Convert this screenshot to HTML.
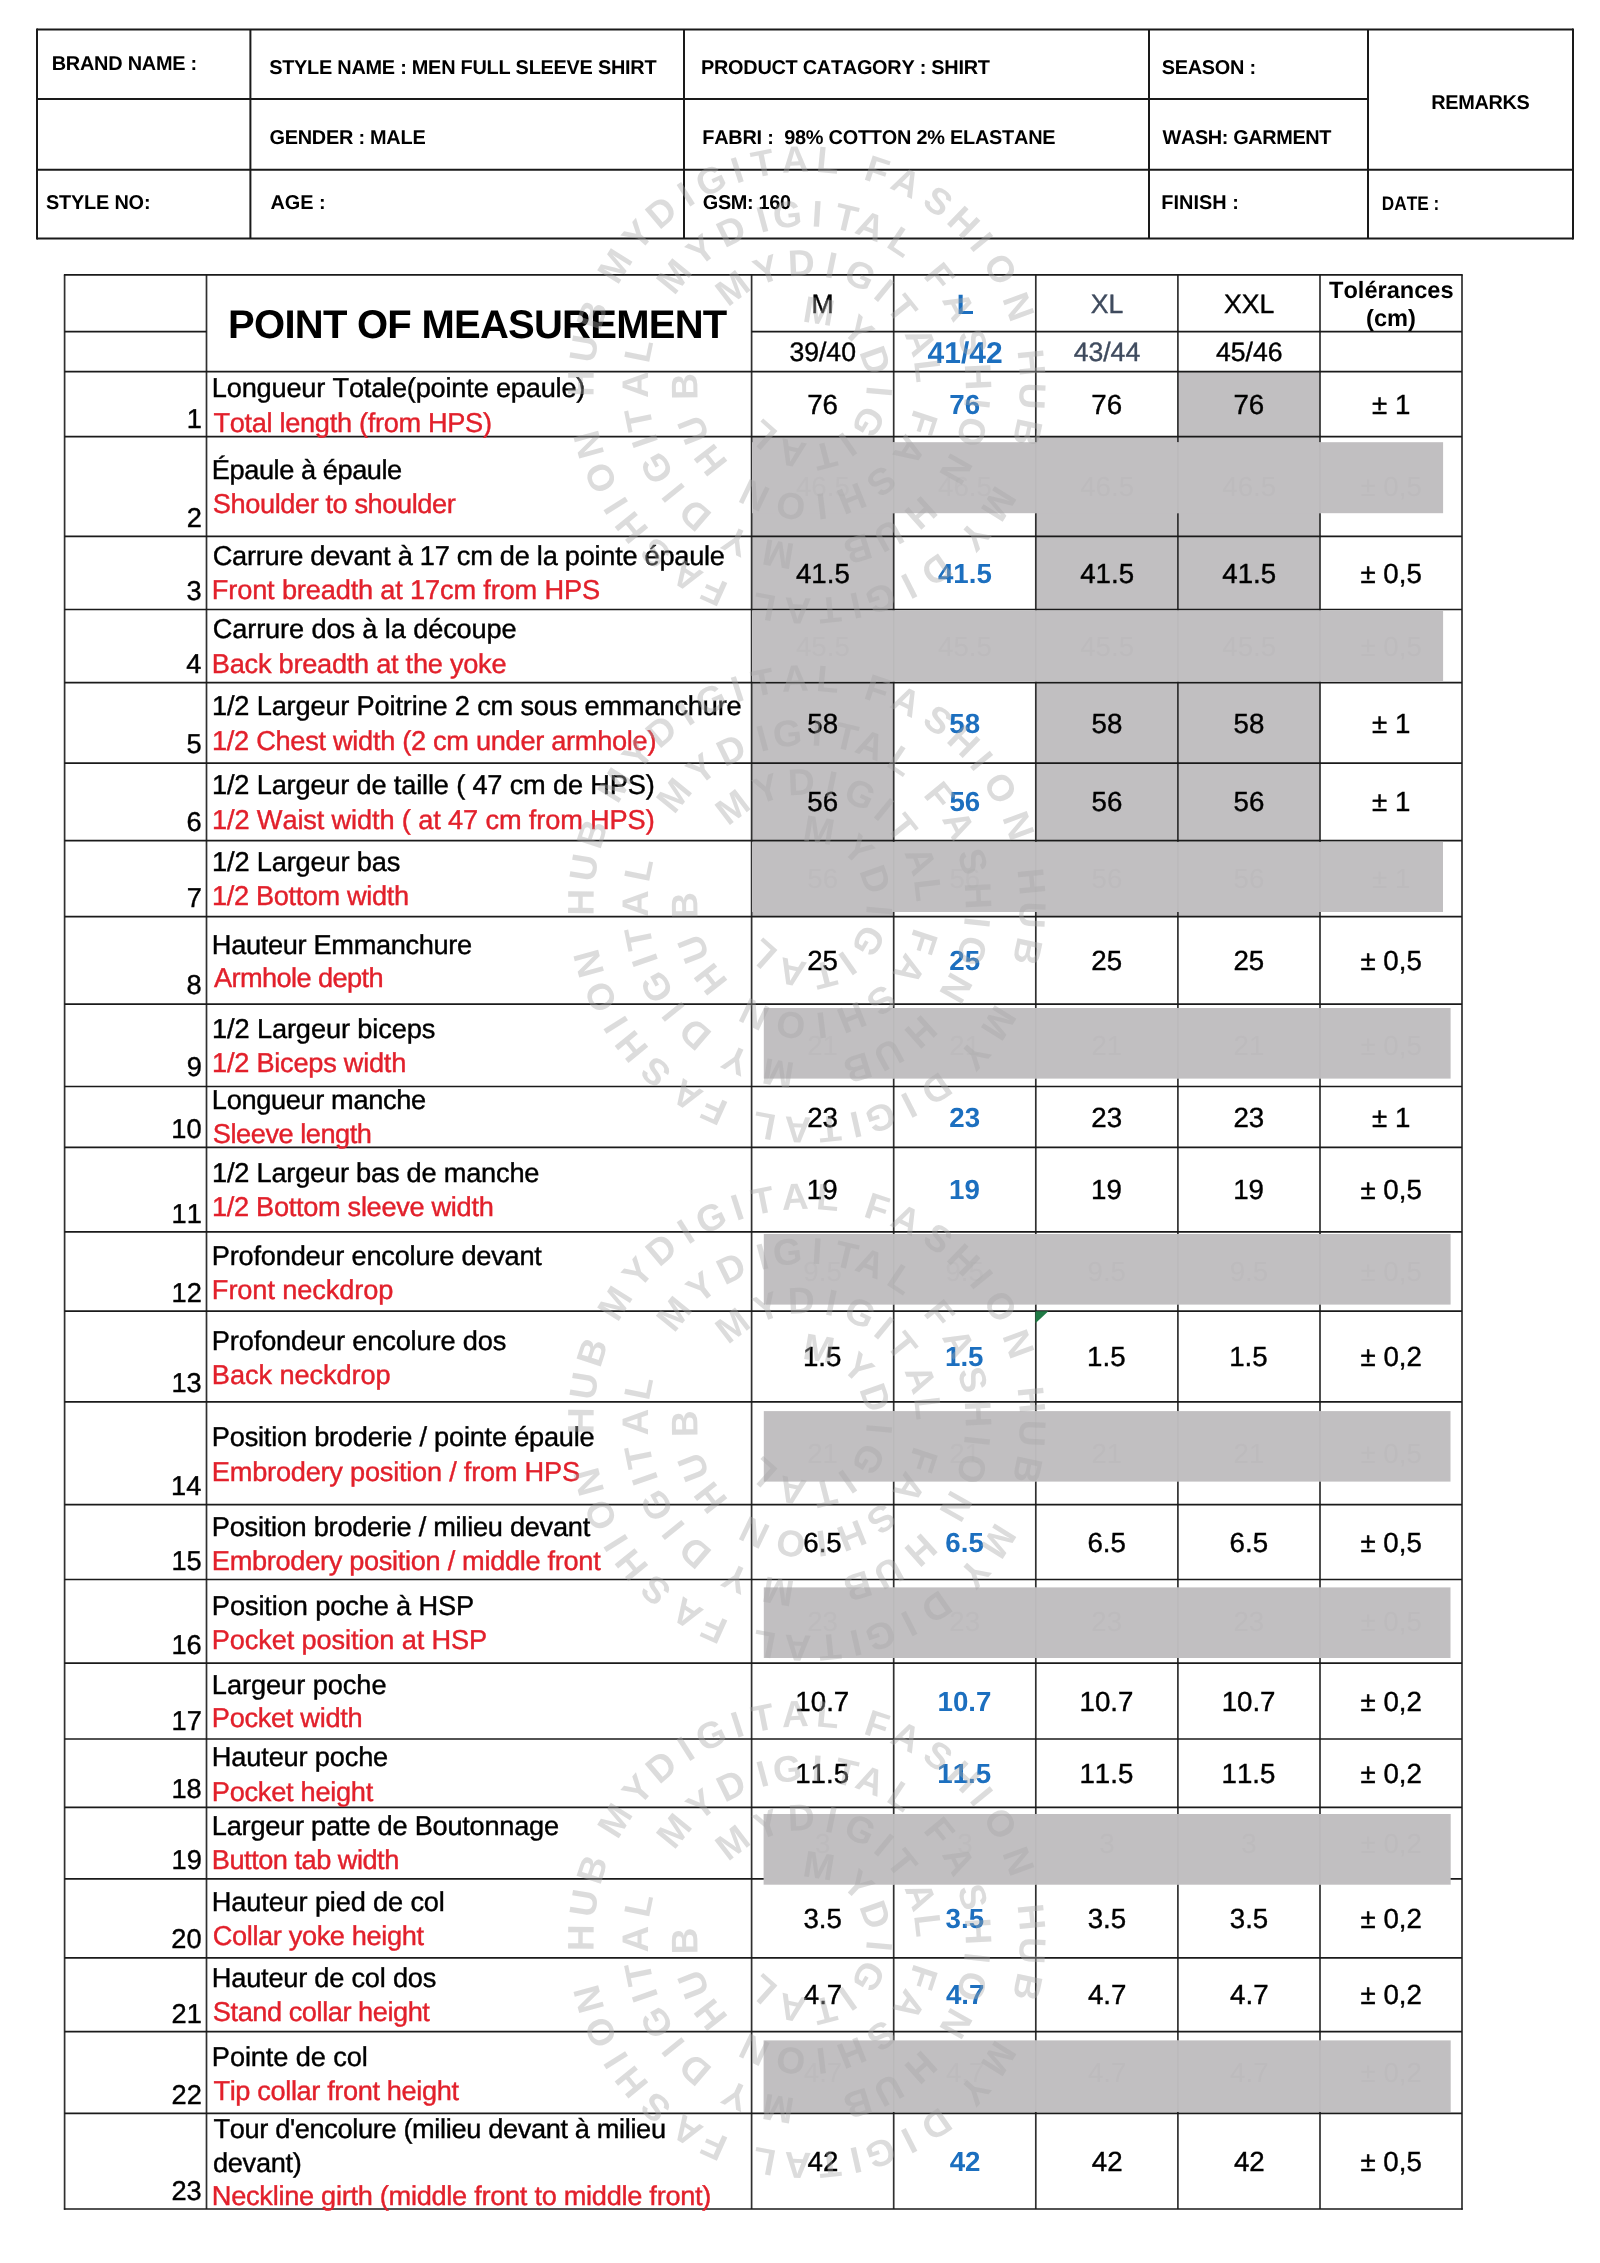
<!DOCTYPE html>
<html><head><meta charset="utf-8"><title>Measurement chart</title>
<style>html,body{margin:0;padding:0;background:#fff;}svg{display:block;font-kerning:none;text-rendering:geometricPrecision;will-change:transform;}</style>
</head><body>
<svg xmlns="http://www.w3.org/2000/svg" width="1600" height="2263" viewBox="0 0 1600 2263" font-family="'Liberation Sans', sans-serif">
<defs><g id="stamp" font-size="37" font-weight="bold"><text x="0" y="-213.2" text-anchor="middle" transform="rotate(301.8)">M</text><text x="0" y="-213.2" text-anchor="middle" transform="rotate(311.6)">Y</text><text x="0" y="-213.2" text-anchor="middle" transform="rotate(319.9)">D</text><text x="0" y="-213.2" text-anchor="middle" transform="rotate(327.6)">I</text><text x="0" y="-213.2" text-anchor="middle" transform="rotate(334.9)">G</text><text x="0" y="-213.2" text-anchor="middle" transform="rotate(342.1)">I</text><text x="0" y="-213.2" text-anchor="middle" transform="rotate(348.8)">T</text><text x="0" y="-213.2" text-anchor="middle" transform="rotate(357.0)">A</text><text x="0" y="-213.2" text-anchor="middle" transform="rotate(5.4)">L</text><text x="0" y="-213.2" text-anchor="middle" transform="rotate(18.2)">F</text><text x="0" y="-213.2" text-anchor="middle" transform="rotate(26.2)">A</text><text x="0" y="-213.2" text-anchor="middle" transform="rotate(35.6)">S</text><text x="0" y="-213.2" text-anchor="middle" transform="rotate(44.0)">H</text><text x="0" y="-213.2" text-anchor="middle" transform="rotate(50.7)">I</text><text x="0" y="-213.2" text-anchor="middle" transform="rotate(59.1)">O</text><text x="0" y="-213.2" text-anchor="middle" transform="rotate(69.7)">N</text><text x="0" y="-213.2" text-anchor="middle" transform="rotate(84.3)">H</text><text x="0" y="-213.2" text-anchor="middle" transform="rotate(92.8)">U</text><text x="0" y="-213.2" text-anchor="middle" transform="rotate(102.1)">B</text><text x="0" y="-213.2" text-anchor="middle" transform="rotate(121.8)">M</text><text x="0" y="-213.2" text-anchor="middle" transform="rotate(131.9)">Y</text><text x="0" y="-213.2" text-anchor="middle" transform="rotate(145.0)">D</text><text x="0" y="-213.2" text-anchor="middle" transform="rotate(153.0)">I</text><text x="0" y="-213.2" text-anchor="middle" transform="rotate(160.9)">G</text><text x="0" y="-213.2" text-anchor="middle" transform="rotate(167.4)">I</text><text x="0" y="-213.2" text-anchor="middle" transform="rotate(174.1)">T</text><text x="0" y="-213.2" text-anchor="middle" transform="rotate(182.3)">A</text><text x="0" y="-213.2" text-anchor="middle" transform="rotate(190.9)">L</text><text x="0" y="-213.2" text-anchor="middle" transform="rotate(204.2)">F</text><text x="0" y="-213.2" text-anchor="middle" transform="rotate(212.1)">A</text><text x="0" y="-213.2" text-anchor="middle" transform="rotate(222.0)">S</text><text x="0" y="-213.2" text-anchor="middle" transform="rotate(230.9)">H</text><text x="0" y="-213.2" text-anchor="middle" transform="rotate(237.7)">I</text><text x="0" y="-213.2" text-anchor="middle" transform="rotate(245.8)">O</text><text x="0" y="-213.2" text-anchor="middle" transform="rotate(254.7)">N</text><text x="0" y="-213.2" text-anchor="middle" transform="rotate(270.4)">H</text><text x="0" y="-213.2" text-anchor="middle" transform="rotate(279.3)">U</text><text x="0" y="-213.2" text-anchor="middle" transform="rotate(288.1)">B</text><text x="0" y="-158.8" text-anchor="middle" transform="rotate(309.3)">M</text><text x="0" y="-158.8" text-anchor="middle" transform="rotate(322.0)">Y</text><text x="0" y="-158.8" text-anchor="middle" transform="rotate(333.9)">D</text><text x="0" y="-158.8" text-anchor="middle" transform="rotate(345.0)">I</text><text x="0" y="-158.8" text-anchor="middle" transform="rotate(353.5)">G</text><text x="0" y="-158.8" text-anchor="middle" transform="rotate(3.5)">I</text><text x="0" y="-158.8" text-anchor="middle" transform="rotate(13.3)">T</text><text x="0" y="-158.8" text-anchor="middle" transform="rotate(21.9)">A</text><text x="0" y="-158.8" text-anchor="middle" transform="rotate(33.5)">L</text><text x="0" y="-158.8" text-anchor="middle" transform="rotate(50.8)">F</text><text x="0" y="-158.8" text-anchor="middle" transform="rotate(62.6)">A</text><text x="0" y="-158.8" text-anchor="middle" transform="rotate(75.6)">S</text><text x="0" y="-158.8" text-anchor="middle" transform="rotate(87.2)">H</text><text x="0" y="-158.8" text-anchor="middle" transform="rotate(96.2)">I</text><text x="0" y="-158.8" text-anchor="middle" transform="rotate(105.8)">O</text><text x="0" y="-158.8" text-anchor="middle" transform="rotate(119.4)">N</text><text x="0" y="-158.8" text-anchor="middle" transform="rotate(138.2)">H</text><text x="0" y="-158.8" text-anchor="middle" transform="rotate(151.5)">U</text><text x="0" y="-158.8" text-anchor="middle" transform="rotate(162.7)">B</text><text x="0" y="-158.8" text-anchor="middle" transform="rotate(189.6)">M</text><text x="0" y="-158.8" text-anchor="middle" transform="rotate(204.4)">Y</text><text x="0" y="-158.8" text-anchor="middle" transform="rotate(220.7)">D</text><text x="0" y="-158.8" text-anchor="middle" transform="rotate(231.1)">I</text><text x="0" y="-158.8" text-anchor="middle" transform="rotate(241.0)">G</text><text x="0" y="-158.8" text-anchor="middle" transform="rotate(250.8)">I</text><text x="0" y="-158.8" text-anchor="middle" transform="rotate(258.4)">T</text><text x="0" y="-158.8" text-anchor="middle" transform="rotate(270.1)">A</text><text x="0" y="-158.8" text-anchor="middle" transform="rotate(281.6)">L</text><text x="0" y="-109.4" text-anchor="middle" transform="rotate(322.5)">M</text><text x="0" y="-109.4" text-anchor="middle" transform="rotate(340.8)">Y</text><text x="0" y="-109.4" text-anchor="middle" transform="rotate(357.4)">D</text><text x="0" y="-109.4" text-anchor="middle" transform="rotate(11.7)">I</text><text x="0" y="-109.4" text-anchor="middle" transform="rotate(26.0)">G</text><text x="0" y="-109.4" text-anchor="middle" transform="rotate(39.3)">I</text><text x="0" y="-109.4" text-anchor="middle" transform="rotate(51.3)">T</text><text x="0" y="-109.4" text-anchor="middle" transform="rotate(69.2)">A</text><text x="0" y="-109.4" text-anchor="middle" transform="rotate(83.3)">L</text><text x="0" y="-109.4" text-anchor="middle" transform="rotate(108.1)">F</text><text x="0" y="-109.4" text-anchor="middle" transform="rotate(122.6)">A</text><text x="0" y="-109.4" text-anchor="middle" transform="rotate(142.2)">S</text><text x="0" y="-109.4" text-anchor="middle" transform="rotate(158.3)">H</text><text x="0" y="-109.4" text-anchor="middle" transform="rotate(173.0)">I</text><text x="0" y="-109.4" text-anchor="middle" transform="rotate(187.5)">O</text><text x="0" y="-109.4" text-anchor="middle" transform="rotate(205.5)">N</text><text x="0" y="-109.4" text-anchor="middle" transform="rotate(232.0)">H</text><text x="0" y="-109.4" text-anchor="middle" transform="rotate(248.4)">U</text><text x="0" y="-109.4" text-anchor="middle" transform="rotate(269.3)">B</text><text x="0" y="-62.1" text-anchor="middle" transform="rotate(9.4)">M</text><text x="0" y="-62.4" text-anchor="middle" transform="rotate(43.5)">Y</text><text x="0" y="-60.4" text-anchor="middle" transform="rotate(70.3)">D</text><text x="0" y="-60.2" text-anchor="middle" transform="rotate(95.2)">I</text><text x="0" y="-59.5" text-anchor="middle" transform="rotate(121.0)">G</text><text x="0" y="-59.4" text-anchor="middle" transform="rotate(145.3)">I</text><text x="0" y="-60.3" text-anchor="middle" transform="rotate(165.6)">T</text><text x="0" y="-57.1" text-anchor="middle" transform="rotate(192.1)">A</text><text x="0" y="-54.0" text-anchor="middle" transform="rotate(221.7)">L</text></g></defs>
<rect width="1600" height="2263" fill="#fff"/>
<line x1="37" y1="29.5" x2="1573" y2="29.5" stroke="#1a1a1a" stroke-width="2"/><line x1="37" y1="238.5" x2="1573" y2="238.5" stroke="#1a1a1a" stroke-width="2"/><line x1="37" y1="28.5" x2="37" y2="239.5" stroke="#1a1a1a" stroke-width="2"/><line x1="1573" y1="28.5" x2="1573" y2="239.5" stroke="#1a1a1a" stroke-width="2"/><line x1="250.4" y1="29.5" x2="250.4" y2="238.5" stroke="#1a1a1a" stroke-width="2"/><line x1="684" y1="29.5" x2="684" y2="238.5" stroke="#1a1a1a" stroke-width="2"/><line x1="1149" y1="29.5" x2="1149" y2="238.5" stroke="#1a1a1a" stroke-width="2"/><line x1="1368" y1="29.5" x2="1368" y2="238.5" stroke="#1a1a1a" stroke-width="2"/><line x1="37" y1="98.9" x2="1368" y2="98.9" stroke="#1a1a1a" stroke-width="2"/><line x1="37" y1="169.7" x2="1573" y2="169.7" stroke="#1a1a1a" stroke-width="2"/><text x="51.67" y="70.30" font-size="19.9" font-weight="bold" fill="#000" textLength="145.55" lengthAdjust="spacing">BRAND NAME :</text><text x="269.13" y="74.30" font-size="19.9" font-weight="bold" fill="#000" textLength="387.49" lengthAdjust="spacing">STYLE NAME : MEN FULL SLEEVE SHIRT</text><text x="700.97" y="74.10" font-size="19.9" font-weight="bold" fill="#000" textLength="288.94" lengthAdjust="spacing">PRODUCT CATAGORY : SHIRT</text><text x="1161.63" y="74.10" font-size="19.9" font-weight="bold" fill="#000" textLength="94.49" lengthAdjust="spacing">SEASON :</text><text x="1431.17" y="109.10" font-size="19.9" font-weight="bold" fill="#000" textLength="98.61" lengthAdjust="spacing">REMARKS</text><text x="269.48" y="143.50" font-size="19.9" font-weight="bold" fill="#000" textLength="156.19" lengthAdjust="spacing">GENDER : MALE</text><text x="702.27" y="143.70" font-size="19.9" font-weight="bold" fill="#000" textLength="353.31" lengthAdjust="spacing">FABRI :  98% COTTON 2% ELASTANE</text><text x="1162.48" y="143.60" font-size="19.9" font-weight="bold" fill="#000" textLength="169.03" lengthAdjust="spacing">WASH: GARMENT</text><text x="45.93" y="208.50" font-size="19.9" font-weight="bold" fill="#000" textLength="104.59" lengthAdjust="spacing">STYLE NO:</text><text x="270.50" y="208.70" font-size="19.9" font-weight="bold" fill="#000" textLength="55.11" lengthAdjust="spacing">AGE :</text><text x="702.78" y="209.30" font-size="19.9" font-weight="bold" fill="#000" textLength="88.23" lengthAdjust="spacing">GSM: 160</text><text x="1161.27" y="208.90" font-size="19.9" font-weight="bold" fill="#000" textLength="77.65" lengthAdjust="spacing">FINISH :</text><text x="1381.85" y="209.60" font-size="19.6" font-weight="bold" fill="#000" textLength="57.41" lengthAdjust="spacingAndGlyphs">DATE :</text><rect x="1177.9" y="371.7" width="142.10" height="65.00" fill="#c1bfc1"/><rect x="751.6" y="436.7" width="142.10" height="99.60" fill="#c1bfc1"/><rect x="1035.8" y="436.7" width="142.10" height="99.60" fill="#c1bfc1"/><rect x="1177.9" y="436.7" width="142.10" height="99.60" fill="#c1bfc1"/><rect x="751.6" y="536.3" width="142.10" height="73.20" fill="#c1bfc1"/><rect x="1035.8" y="536.3" width="142.10" height="73.20" fill="#c1bfc1"/><rect x="1177.9" y="536.3" width="142.10" height="73.20" fill="#c1bfc1"/><rect x="751.6" y="609.5" width="142.10" height="73.20" fill="#c1bfc1"/><rect x="1035.8" y="609.5" width="142.10" height="73.20" fill="#c1bfc1"/><rect x="1177.9" y="609.5" width="142.10" height="73.20" fill="#c1bfc1"/><rect x="751.6" y="682.7" width="142.10" height="80.40" fill="#c1bfc1"/><rect x="1035.8" y="682.7" width="142.10" height="80.40" fill="#c1bfc1"/><rect x="1177.9" y="682.7" width="142.10" height="80.40" fill="#c1bfc1"/><rect x="751.6" y="763.1" width="142.10" height="77.50" fill="#c1bfc1"/><rect x="1035.8" y="763.1" width="142.10" height="77.50" fill="#c1bfc1"/><rect x="1177.9" y="763.1" width="142.10" height="77.50" fill="#c1bfc1"/><rect x="751.6" y="840.6" width="142.10" height="76.00" fill="#c1bfc1"/><rect x="1035.8" y="840.6" width="142.10" height="76.00" fill="#c1bfc1"/><rect x="1177.9" y="840.6" width="142.10" height="76.00" fill="#c1bfc1"/><line x1="64.6" y1="274.8" x2="64.6" y2="2209.7" stroke="#303030" stroke-width="1.7"/><line x1="206.5" y1="274.8" x2="206.5" y2="2209" stroke="#303030" stroke-width="1.7"/><line x1="751.6" y1="274.8" x2="751.6" y2="2209" stroke="#303030" stroke-width="1.7"/><line x1="893.7" y1="274.8" x2="893.7" y2="2209" stroke="#303030" stroke-width="1.7"/><line x1="1035.8" y1="274.8" x2="1035.8" y2="2209" stroke="#303030" stroke-width="1.7"/><line x1="1177.9" y1="274.8" x2="1177.9" y2="2209" stroke="#303030" stroke-width="1.7"/><line x1="1320.0" y1="274.8" x2="1320.0" y2="2209" stroke="#303030" stroke-width="1.7"/><line x1="1462.0" y1="274.8" x2="1462.0" y2="2209.7" stroke="#303030" stroke-width="1.7"/><line x1="63.89999999999999" y1="274.8" x2="1462.7" y2="274.8" stroke="#1a1a1a" stroke-width="1.7"/><line x1="64.6" y1="331.6" x2="206.5" y2="331.6" stroke="#1a1a1a" stroke-width="1.7"/><line x1="751.6" y1="331.6" x2="1462.0" y2="331.6" stroke="#1a1a1a" stroke-width="1.7"/><line x1="64.6" y1="371.7" x2="1462.0" y2="371.7" stroke="#1a1a1a" stroke-width="1.7"/><line x1="64.6" y1="436.7" x2="1462.0" y2="436.7" stroke="#1a1a1a" stroke-width="1.7"/><line x1="64.6" y1="536.3" x2="1462.0" y2="536.3" stroke="#1a1a1a" stroke-width="1.7"/><line x1="64.6" y1="609.5" x2="1462.0" y2="609.5" stroke="#1a1a1a" stroke-width="1.7"/><line x1="64.6" y1="682.7" x2="1462.0" y2="682.7" stroke="#1a1a1a" stroke-width="1.7"/><line x1="64.6" y1="763.1" x2="1462.0" y2="763.1" stroke="#1a1a1a" stroke-width="1.7"/><line x1="64.6" y1="840.6" x2="1462.0" y2="840.6" stroke="#1a1a1a" stroke-width="1.7"/><line x1="64.6" y1="916.6" x2="1462.0" y2="916.6" stroke="#1a1a1a" stroke-width="1.7"/><line x1="64.6" y1="1004.1" x2="1462.0" y2="1004.1" stroke="#1a1a1a" stroke-width="1.7"/><line x1="64.6" y1="1086.5" x2="1462.0" y2="1086.5" stroke="#1a1a1a" stroke-width="1.7"/><line x1="64.6" y1="1147.4" x2="1462.0" y2="1147.4" stroke="#1a1a1a" stroke-width="1.7"/><line x1="64.6" y1="1231.9" x2="1462.0" y2="1231.9" stroke="#1a1a1a" stroke-width="1.7"/><line x1="64.6" y1="1311.1" x2="1462.0" y2="1311.1" stroke="#1a1a1a" stroke-width="1.7"/><line x1="64.6" y1="1401.9" x2="1462.0" y2="1401.9" stroke="#1a1a1a" stroke-width="1.7"/><line x1="64.6" y1="1504.7" x2="1462.0" y2="1504.7" stroke="#1a1a1a" stroke-width="1.7"/><line x1="64.6" y1="1579.5" x2="1462.0" y2="1579.5" stroke="#1a1a1a" stroke-width="1.7"/><line x1="64.6" y1="1663.1" x2="1462.0" y2="1663.1" stroke="#1a1a1a" stroke-width="1.7"/><line x1="64.6" y1="1739" x2="1462.0" y2="1739" stroke="#1a1a1a" stroke-width="1.7"/><line x1="64.6" y1="1807.3" x2="1462.0" y2="1807.3" stroke="#1a1a1a" stroke-width="1.7"/><line x1="64.6" y1="1878.8" x2="1462.0" y2="1878.8" stroke="#1a1a1a" stroke-width="1.7"/><line x1="64.6" y1="1957.8" x2="1462.0" y2="1957.8" stroke="#1a1a1a" stroke-width="1.7"/><line x1="64.6" y1="2031.6" x2="1462.0" y2="2031.6" stroke="#1a1a1a" stroke-width="1.7"/><line x1="64.6" y1="2113.4" x2="1462.0" y2="2113.4" stroke="#1a1a1a" stroke-width="1.7"/><line x1="63.89999999999999" y1="2209" x2="1462.7" y2="2209" stroke="#1a1a1a" stroke-width="1.7"/><text x="228.12" y="337.80" font-size="40" font-weight="bold" fill="#000" textLength="499.11" lengthAdjust="spacing">POINT OF MEASUREMENT</text><text x="811.57" y="313.10" font-size="26.6" fill="#000" stroke="#000" stroke-width="0.4">M</text><text x="956.69" y="314.40" font-size="28" font-weight="bold" fill="#1c6fbf">L</text><text x="1090.73" y="313.10" font-size="26.6" fill="#3f4b5e" stroke="#3f4b5e" stroke-width="0.4">XL</text><text x="1223.95" y="313.10" font-size="26.6" fill="#000" stroke="#000" stroke-width="0.4">XXL</text><text x="789.38" y="361.25" font-size="26.6" fill="#000" stroke="#000" stroke-width="0.4">39/40</text><text x="927.59" y="362.80" font-size="30" font-weight="bold" fill="#1c6fbf">41/42</text><text x="1073.65" y="361.25" font-size="26.6" fill="#3f4b5e" stroke="#3f4b5e" stroke-width="0.4">43/44</text><text x="1215.95" y="361.25" font-size="26.6" fill="#000" stroke="#000" stroke-width="0.4">45/46</text><text x="1329.04" y="298.20" font-size="23.6" font-weight="bold" fill="#000">Tolérances</text><text x="1366.09" y="326.30" font-size="23.6" font-weight="bold" fill="#000">(cm)</text><text x="211.87" y="397.40" font-size="27.2" fill="#000" stroke="#000" stroke-width="0.4" textLength="373.52" lengthAdjust="spacing">Longueur Totale(pointe epaule)</text><text x="213.49" y="432.05" font-size="27.2" fill="#e2202b" stroke="#e2202b" stroke-width="0.4" textLength="278.50" lengthAdjust="spacing">Total length (from HPS)</text><text x="201.83" y="427.50" font-size="27.2" text-anchor="end" fill="#000" stroke="#000" stroke-width="0.4">1</text><text x="807.14" y="413.80" font-size="27.7" fill="#000" stroke="#000" stroke-width="0.4">76</text><text x="949.25" y="413.80" font-size="27.7" font-weight="bold" fill="#1c6fbf">76</text><text x="1091.34" y="413.80" font-size="27.7" fill="#000" stroke="#000" stroke-width="0.4">76</text><text x="1233.44" y="413.80" font-size="27.7" fill="#000" stroke="#000" stroke-width="0.4">76</text><text x="1372.08" y="413.80" font-size="27.7" fill="#000" stroke="#000" stroke-width="0.4">± 1</text><text x="211.87" y="479.30" font-size="27.2" fill="#000" stroke="#000" stroke-width="0.4" textLength="190.34" lengthAdjust="spacing">Épaule à épaule</text><text x="212.86" y="513.05" font-size="27.2" fill="#e2202b" stroke="#e2202b" stroke-width="0.4" textLength="242.89" lengthAdjust="spacing">Shoulder to shoulder</text><text x="201.87" y="526.50" font-size="27.2" text-anchor="end" fill="#000" stroke="#000" stroke-width="0.4">2</text><text x="212.72" y="565.10" font-size="27.2" fill="#000" stroke="#000" stroke-width="0.4" textLength="512.19" lengthAdjust="spacing">Carrure devant à 17 cm de la pointe épaule</text><text x="211.87" y="599.20" font-size="27.2" fill="#e2202b" stroke="#e2202b" stroke-width="0.4" textLength="388.18" lengthAdjust="spacing">Front breadth at 17cm from HPS</text><text x="201.70" y="599.75" font-size="27.2" text-anchor="end" fill="#000" stroke="#000" stroke-width="0.4">3</text><text x="795.96" y="582.50" font-size="27.7" fill="#000" stroke="#000" stroke-width="0.4">41.5</text><text x="937.97" y="582.50" font-size="27.7" font-weight="bold" fill="#1c6fbf">41.5</text><text x="1080.16" y="582.50" font-size="27.7" fill="#000" stroke="#000" stroke-width="0.4">41.5</text><text x="1222.26" y="582.50" font-size="27.7" fill="#000" stroke="#000" stroke-width="0.4">41.5</text><text x="1360.44" y="582.50" font-size="27.7" fill="#000" stroke="#000" stroke-width="0.4">± 0,5</text><text x="212.72" y="637.70" font-size="27.2" fill="#000" stroke="#000" stroke-width="0.4" textLength="303.99" lengthAdjust="spacing">Carrure dos à la découpe</text><text x="211.87" y="673.30" font-size="27.2" fill="#e2202b" stroke="#e2202b" stroke-width="0.4" textLength="294.64" lengthAdjust="spacing">Back breadth at the yoke</text><text x="201.30" y="672.90" font-size="27.2" text-anchor="end" fill="#000" stroke="#000" stroke-width="0.4">4</text><text x="212.03" y="715.20" font-size="27.2" fill="#000" stroke="#000" stroke-width="0.4" textLength="529.68" lengthAdjust="spacing">1/2 Largeur Poitrine 2 cm sous emmanchure</text><text x="212.03" y="749.90" font-size="27.2" fill="#e2202b" stroke="#e2202b" stroke-width="0.4" textLength="444.46" lengthAdjust="spacing">1/2 Chest width (2 cm under armhole)</text><text x="201.64" y="752.80" font-size="27.2" text-anchor="end" fill="#000" stroke="#000" stroke-width="0.4">5</text><text x="807.29" y="732.50" font-size="27.7" fill="#000" stroke="#000" stroke-width="0.4">58</text><text x="949.34" y="732.50" font-size="27.7" font-weight="bold" fill="#1c6fbf">58</text><text x="1091.49" y="732.50" font-size="27.7" fill="#000" stroke="#000" stroke-width="0.4">58</text><text x="1233.59" y="732.50" font-size="27.7" fill="#000" stroke="#000" stroke-width="0.4">58</text><text x="1372.08" y="732.50" font-size="27.7" fill="#000" stroke="#000" stroke-width="0.4">± 1</text><text x="212.03" y="793.90" font-size="27.2" fill="#000" stroke="#000" stroke-width="0.4" textLength="442.66" lengthAdjust="spacing">1/2 Largeur de taille ( 47 cm de HPS)</text><text x="212.03" y="828.60" font-size="27.2" fill="#e2202b" stroke="#e2202b" stroke-width="0.4" textLength="442.66" lengthAdjust="spacing">1/2 Waist width ( at 47 cm from HPS)</text><text x="201.70" y="831.00" font-size="27.2" text-anchor="end" fill="#000" stroke="#000" stroke-width="0.4">6</text><text x="807.30" y="811.45" font-size="27.7" fill="#000" stroke="#000" stroke-width="0.4">56</text><text x="949.42" y="811.45" font-size="27.7" font-weight="bold" fill="#1c6fbf">56</text><text x="1091.50" y="811.45" font-size="27.7" fill="#000" stroke="#000" stroke-width="0.4">56</text><text x="1233.60" y="811.45" font-size="27.7" fill="#000" stroke="#000" stroke-width="0.4">56</text><text x="1372.08" y="811.45" font-size="27.7" fill="#000" stroke="#000" stroke-width="0.4">± 1</text><text x="212.03" y="870.50" font-size="27.2" fill="#000" stroke="#000" stroke-width="0.4" textLength="188.25" lengthAdjust="spacing">1/2 Largeur bas</text><text x="212.03" y="905.20" font-size="27.2" fill="#e2202b" stroke="#e2202b" stroke-width="0.4" textLength="197.04" lengthAdjust="spacing">1/2 Bottom width</text><text x="201.87" y="906.60" font-size="27.2" text-anchor="end" fill="#000" stroke="#000" stroke-width="0.4">7</text><text x="211.87" y="953.55" font-size="27.2" fill="#000" stroke="#000" stroke-width="0.4" textLength="260.34" lengthAdjust="spacing">Hauteur Emmanchure</text><text x="214.05" y="987.30" font-size="27.2" fill="#e2202b" stroke="#e2202b" stroke-width="0.4" textLength="169.52" lengthAdjust="spacing">Armhole depth</text><text x="201.68" y="994.40" font-size="27.2" text-anchor="end" fill="#000" stroke="#000" stroke-width="0.4">8</text><text x="807.13" y="969.95" font-size="27.7" fill="#000" stroke="#000" stroke-width="0.4">25</text><text x="949.25" y="969.95" font-size="27.7" font-weight="bold" fill="#1c6fbf">25</text><text x="1091.33" y="969.95" font-size="27.7" fill="#000" stroke="#000" stroke-width="0.4">25</text><text x="1233.43" y="969.95" font-size="27.7" fill="#000" stroke="#000" stroke-width="0.4">25</text><text x="1360.44" y="969.95" font-size="27.7" fill="#000" stroke="#000" stroke-width="0.4">± 0,5</text><text x="212.03" y="1038.00" font-size="27.2" fill="#000" stroke="#000" stroke-width="0.4" textLength="223.25" lengthAdjust="spacing">1/2 Largeur biceps</text><text x="212.03" y="1071.70" font-size="27.2" fill="#e2202b" stroke="#e2202b" stroke-width="0.4" textLength="194.24" lengthAdjust="spacing">1/2 Biceps width</text><text x="201.79" y="1076.00" font-size="27.2" text-anchor="end" fill="#000" stroke="#000" stroke-width="0.4">9</text><text x="211.87" y="1109.20" font-size="27.2" fill="#000" stroke="#000" stroke-width="0.4" textLength="214.14" lengthAdjust="spacing">Longueur manche</text><text x="212.86" y="1143.00" font-size="27.2" fill="#e2202b" stroke="#e2202b" stroke-width="0.4" textLength="159.10" lengthAdjust="spacing">Sleeve length</text><text x="201.56" y="1137.50" font-size="27.2" text-anchor="end" fill="#000" stroke="#000" stroke-width="0.4">10</text><text x="807.16" y="1126.55" font-size="27.7" fill="#000" stroke="#000" stroke-width="0.4">23</text><text x="949.36" y="1126.55" font-size="27.7" font-weight="bold" fill="#1c6fbf">23</text><text x="1091.36" y="1126.55" font-size="27.7" fill="#000" stroke="#000" stroke-width="0.4">23</text><text x="1233.46" y="1126.55" font-size="27.7" fill="#000" stroke="#000" stroke-width="0.4">23</text><text x="1372.08" y="1126.55" font-size="27.7" fill="#000" stroke="#000" stroke-width="0.4">± 1</text><text x="212.03" y="1181.80" font-size="27.2" fill="#000" stroke="#000" stroke-width="0.4" textLength="327.38" lengthAdjust="spacing">1/2 Largeur bas de manche</text><text x="212.03" y="1215.80" font-size="27.2" fill="#e2202b" stroke="#e2202b" stroke-width="0.4" textLength="281.74" lengthAdjust="spacing">1/2 Bottom sleeve width</text><text x="201.83" y="1222.90" font-size="27.2" text-anchor="end" fill="#000" stroke="#000" stroke-width="0.4">11</text><text x="806.85" y="1199.25" font-size="27.7" fill="#000" stroke="#000" stroke-width="0.4">19</text><text x="948.99" y="1199.25" font-size="27.7" font-weight="bold" fill="#1c6fbf">19</text><text x="1091.05" y="1199.25" font-size="27.7" fill="#000" stroke="#000" stroke-width="0.4">19</text><text x="1233.15" y="1199.25" font-size="27.7" fill="#000" stroke="#000" stroke-width="0.4">19</text><text x="1360.44" y="1199.25" font-size="27.7" fill="#000" stroke="#000" stroke-width="0.4">± 0,5</text><text x="211.87" y="1264.55" font-size="27.2" fill="#000" stroke="#000" stroke-width="0.4" textLength="330.03" lengthAdjust="spacing">Profondeur encolure devant</text><text x="211.87" y="1298.90" font-size="27.2" fill="#e2202b" stroke="#e2202b" stroke-width="0.4" textLength="181.57" lengthAdjust="spacing">Front neckdrop</text><text x="201.87" y="1302.20" font-size="27.2" text-anchor="end" fill="#000" stroke="#000" stroke-width="0.4">12</text><text x="211.87" y="1349.55" font-size="27.2" fill="#000" stroke="#000" stroke-width="0.4" textLength="294.41" lengthAdjust="spacing">Profondeur encolure dos</text><text x="211.87" y="1383.90" font-size="27.2" fill="#e2202b" stroke="#e2202b" stroke-width="0.4" textLength="178.77" lengthAdjust="spacing">Back neckdrop</text><text x="201.70" y="1391.90" font-size="27.2" text-anchor="end" fill="#000" stroke="#000" stroke-width="0.4">13</text><text x="802.92" y="1366.10" font-size="27.7" fill="#000" stroke="#000" stroke-width="0.4">1.5</text><text x="945.01" y="1366.10" font-size="27.7" font-weight="bold" fill="#1c6fbf">1.5</text><text x="1087.12" y="1366.10" font-size="27.7" fill="#000" stroke="#000" stroke-width="0.4">1.5</text><text x="1229.22" y="1366.10" font-size="27.7" fill="#000" stroke="#000" stroke-width="0.4">1.5</text><text x="1360.55" y="1366.10" font-size="27.7" fill="#000" stroke="#000" stroke-width="0.4">± 0,2</text><text x="211.87" y="1446.10" font-size="27.2" fill="#000" stroke="#000" stroke-width="0.4" textLength="382.84" lengthAdjust="spacing">Position broderie / pointe épaule</text><text x="211.87" y="1480.80" font-size="27.2" fill="#e2202b" stroke="#e2202b" stroke-width="0.4" textLength="368.18" lengthAdjust="spacing">Embrodery position / from HPS</text><text x="201.30" y="1495.00" font-size="27.2" text-anchor="end" fill="#000" stroke="#000" stroke-width="0.4">14</text><text x="211.87" y="1535.80" font-size="27.2" fill="#000" stroke="#000" stroke-width="0.4" textLength="378.33" lengthAdjust="spacing">Position broderie / milieu devant</text><text x="211.87" y="1569.55" font-size="27.2" fill="#e2202b" stroke="#e2202b" stroke-width="0.4" textLength="388.83" lengthAdjust="spacing">Embrodery position / middle front</text><text x="201.64" y="1570.25" font-size="27.2" text-anchor="end" fill="#000" stroke="#000" stroke-width="0.4">15</text><text x="803.27" y="1551.70" font-size="27.7" fill="#000" stroke="#000" stroke-width="0.4">6.5</text><text x="945.37" y="1551.70" font-size="27.7" font-weight="bold" fill="#1c6fbf">6.5</text><text x="1087.47" y="1551.70" font-size="27.7" fill="#000" stroke="#000" stroke-width="0.4">6.5</text><text x="1229.57" y="1551.70" font-size="27.7" fill="#000" stroke="#000" stroke-width="0.4">6.5</text><text x="1360.44" y="1551.70" font-size="27.7" fill="#000" stroke="#000" stroke-width="0.4">± 0,5</text><text x="211.87" y="1614.55" font-size="27.2" fill="#000" stroke="#000" stroke-width="0.4" textLength="262.37" lengthAdjust="spacing">Position poche à HSP</text><text x="211.87" y="1648.90" font-size="27.2" fill="#e2202b" stroke="#e2202b" stroke-width="0.4" textLength="275.27" lengthAdjust="spacing">Pocket position at HSP</text><text x="201.70" y="1654.00" font-size="27.2" text-anchor="end" fill="#000" stroke="#000" stroke-width="0.4">16</text><text x="211.87" y="1693.55" font-size="27.2" fill="#000" stroke="#000" stroke-width="0.4" textLength="174.64" lengthAdjust="spacing">Largeur poche</text><text x="211.87" y="1727.30" font-size="27.2" fill="#e2202b" stroke="#e2202b" stroke-width="0.4" textLength="150.70" lengthAdjust="spacing">Pocket width</text><text x="201.87" y="1729.70" font-size="27.2" text-anchor="end" fill="#000" stroke="#000" stroke-width="0.4">17</text><text x="795.34" y="1710.65" font-size="27.7" fill="#000" stroke="#000" stroke-width="0.4">10.7</text><text x="937.53" y="1710.65" font-size="27.7" font-weight="bold" fill="#1c6fbf">10.7</text><text x="1079.54" y="1710.65" font-size="27.7" fill="#000" stroke="#000" stroke-width="0.4">10.7</text><text x="1221.64" y="1710.65" font-size="27.7" fill="#000" stroke="#000" stroke-width="0.4">10.7</text><text x="1360.55" y="1710.65" font-size="27.7" fill="#000" stroke="#000" stroke-width="0.4">± 0,2</text><text x="211.87" y="1766.10" font-size="27.2" fill="#000" stroke="#000" stroke-width="0.4" textLength="176.34" lengthAdjust="spacing">Hauteur poche</text><text x="211.87" y="1800.80" font-size="27.2" fill="#e2202b" stroke="#e2202b" stroke-width="0.4" textLength="161.33" lengthAdjust="spacing">Pocket height</text><text x="201.68" y="1798.10" font-size="27.2" text-anchor="end" fill="#000" stroke="#000" stroke-width="0.4">18</text><text x="795.22" y="1782.75" font-size="27.7" fill="#000" stroke="#000" stroke-width="0.4">11.5</text><text x="937.31" y="1782.75" font-size="27.7" font-weight="bold" fill="#1c6fbf">11.5</text><text x="1079.42" y="1782.75" font-size="27.7" fill="#000" stroke="#000" stroke-width="0.4">11.5</text><text x="1221.52" y="1782.75" font-size="27.7" fill="#000" stroke="#000" stroke-width="0.4">11.5</text><text x="1360.55" y="1782.75" font-size="27.7" fill="#000" stroke="#000" stroke-width="0.4">± 0,2</text><text x="211.87" y="1835.20" font-size="27.2" fill="#000" stroke="#000" stroke-width="0.4" textLength="347.14" lengthAdjust="spacing">Largeur patte de Boutonnage</text><text x="211.87" y="1869.30" font-size="27.2" fill="#e2202b" stroke="#e2202b" stroke-width="0.4" textLength="187.40" lengthAdjust="spacing">Button tab width</text><text x="201.79" y="1869.00" font-size="27.2" text-anchor="end" fill="#000" stroke="#000" stroke-width="0.4">19</text><text x="211.87" y="1910.80" font-size="27.2" fill="#000" stroke="#000" stroke-width="0.4" textLength="232.95" lengthAdjust="spacing">Hauteur pied de col</text><text x="212.72" y="1944.90" font-size="27.2" fill="#e2202b" stroke="#e2202b" stroke-width="0.4" textLength="211.28" lengthAdjust="spacing">Collar yoke height</text><text x="201.56" y="1948.40" font-size="27.2" text-anchor="end" fill="#000" stroke="#000" stroke-width="0.4">20</text><text x="803.45" y="1927.90" font-size="27.7" fill="#000" stroke="#000" stroke-width="0.4">3.5</text><text x="945.56" y="1927.90" font-size="27.7" font-weight="bold" fill="#1c6fbf">3.5</text><text x="1087.65" y="1927.90" font-size="27.7" fill="#000" stroke="#000" stroke-width="0.4">3.5</text><text x="1229.75" y="1927.90" font-size="27.7" fill="#000" stroke="#000" stroke-width="0.4">3.5</text><text x="1360.55" y="1927.90" font-size="27.7" fill="#000" stroke="#000" stroke-width="0.4">± 0,2</text><text x="211.87" y="1987.40" font-size="27.2" fill="#000" stroke="#000" stroke-width="0.4" textLength="224.41" lengthAdjust="spacing">Hauteur de col dos</text><text x="212.86" y="2021.40" font-size="27.2" fill="#e2202b" stroke="#e2202b" stroke-width="0.4" textLength="217.03" lengthAdjust="spacing">Stand collar height</text><text x="201.83" y="2022.50" font-size="27.2" text-anchor="end" fill="#000" stroke="#000" stroke-width="0.4">21</text><text x="803.78" y="2004.30" font-size="27.7" fill="#000" stroke="#000" stroke-width="0.4">4.7</text><text x="945.90" y="2004.30" font-size="27.7" font-weight="bold" fill="#1c6fbf">4.7</text><text x="1087.98" y="2004.30" font-size="27.7" fill="#000" stroke="#000" stroke-width="0.4">4.7</text><text x="1230.08" y="2004.30" font-size="27.7" fill="#000" stroke="#000" stroke-width="0.4">4.7</text><text x="1360.55" y="2004.30" font-size="27.7" fill="#000" stroke="#000" stroke-width="0.4">± 0,2</text><text x="211.87" y="2065.50" font-size="27.2" fill="#000" stroke="#000" stroke-width="0.4" textLength="155.95" lengthAdjust="spacing">Pointe de col</text><text x="213.49" y="2099.80" font-size="27.2" fill="#e2202b" stroke="#e2202b" stroke-width="0.4" textLength="245.51" lengthAdjust="spacing">Tip collar front height</text><text x="201.87" y="2104.00" font-size="27.2" text-anchor="end" fill="#000" stroke="#000" stroke-width="0.4">22</text><text x="213.49" y="2137.70" font-size="27.2" fill="#000" stroke="#000" stroke-width="0.4" textLength="452.52" lengthAdjust="spacing">Tour d'encolure (milieu devant à milieu</text><text x="212.96" y="2171.80" font-size="27.2" fill="#000" stroke="#000" stroke-width="0.4" textLength="88.93" lengthAdjust="spacing">devant)</text><text x="211.87" y="2205.20" font-size="27.2" fill="#e2202b" stroke="#e2202b" stroke-width="0.4" textLength="499.52" lengthAdjust="spacing">Neckline girth (middle front to middle front)</text><text x="201.70" y="2199.70" font-size="27.2" text-anchor="end" fill="#000" stroke="#000" stroke-width="0.4">23</text><text x="807.62" y="2170.80" font-size="27.7" fill="#000" stroke="#000" stroke-width="0.4">42</text><text x="949.69" y="2170.80" font-size="27.7" font-weight="bold" fill="#1c6fbf">42</text><text x="1091.82" y="2170.80" font-size="27.7" fill="#000" stroke="#000" stroke-width="0.4">42</text><text x="1233.92" y="2170.80" font-size="27.7" fill="#000" stroke="#000" stroke-width="0.4">42</text><text x="1360.44" y="2170.80" font-size="27.7" fill="#000" stroke="#000" stroke-width="0.4">± 0,5</text><rect x="752" y="442.2" width="691.10" height="71.00" fill="#c1bfc1"/><line x1="893.7" y1="442.2" x2="893.7" y2="513.2" stroke="#bab8ba" stroke-width="1.2"/><line x1="1035.8" y1="442.2" x2="1035.8" y2="513.2" stroke="#bab8ba" stroke-width="1.2"/><line x1="1177.9" y1="442.2" x2="1177.9" y2="513.2" stroke="#bab8ba" stroke-width="1.2"/><line x1="1320.0" y1="442.2" x2="1320.0" y2="513.2" stroke="#bab8ba" stroke-width="1.2"/><text x="795.96" y="496.10" font-size="27.7" fill="#bdbbbd">46.5</text><text x="938.06" y="496.10" font-size="27.7" fill="#bdbbbd">46.5</text><text x="1080.16" y="496.10" font-size="27.7" fill="#bdbbbd">46.5</text><text x="1222.26" y="496.10" font-size="27.7" fill="#bdbbbd">46.5</text><text x="1360.44" y="496.10" font-size="27.7" fill="#bdbbbd">± 0,5</text><rect x="752" y="610.4" width="691.10" height="71.20" fill="#c1bfc1"/><line x1="893.7" y1="610.4" x2="893.7" y2="681.6" stroke="#bab8ba" stroke-width="1.2"/><line x1="1035.8" y1="610.4" x2="1035.8" y2="681.6" stroke="#bab8ba" stroke-width="1.2"/><line x1="1177.9" y1="610.4" x2="1177.9" y2="681.6" stroke="#bab8ba" stroke-width="1.2"/><line x1="1320.0" y1="610.4" x2="1320.0" y2="681.6" stroke="#bab8ba" stroke-width="1.2"/><text x="795.96" y="655.70" font-size="27.7" fill="#bdbbbd">45.5</text><text x="938.06" y="655.70" font-size="27.7" fill="#bdbbbd">45.5</text><text x="1080.16" y="655.70" font-size="27.7" fill="#bdbbbd">45.5</text><text x="1222.26" y="655.70" font-size="27.7" fill="#bdbbbd">45.5</text><text x="1360.44" y="655.70" font-size="27.7" fill="#bdbbbd">± 0,5</text><rect x="752" y="841.9" width="691.00" height="70.10" fill="#c1bfc1"/><line x1="893.7" y1="841.9" x2="893.7" y2="912" stroke="#bab8ba" stroke-width="1.2"/><line x1="1035.8" y1="841.9" x2="1035.8" y2="912" stroke="#bab8ba" stroke-width="1.2"/><line x1="1177.9" y1="841.9" x2="1177.9" y2="912" stroke="#bab8ba" stroke-width="1.2"/><line x1="1320.0" y1="841.9" x2="1320.0" y2="912" stroke="#bab8ba" stroke-width="1.2"/><text x="807.30" y="888.20" font-size="27.7" fill="#bdbbbd">56</text><text x="949.40" y="888.20" font-size="27.7" fill="#bdbbbd">56</text><text x="1091.50" y="888.20" font-size="27.7" fill="#bdbbbd">56</text><text x="1233.60" y="888.20" font-size="27.7" fill="#bdbbbd">56</text><text x="1372.08" y="888.20" font-size="27.7" fill="#bdbbbd">± 1</text><rect x="763.8" y="1008" width="686.80" height="70.60" fill="#c1bfc1"/><line x1="893.7" y1="1008" x2="893.7" y2="1078.6" stroke="#bab8ba" stroke-width="1.2"/><line x1="1035.8" y1="1008" x2="1035.8" y2="1078.6" stroke="#bab8ba" stroke-width="1.2"/><line x1="1177.9" y1="1008" x2="1177.9" y2="1078.6" stroke="#bab8ba" stroke-width="1.2"/><line x1="1320.0" y1="1008" x2="1320.0" y2="1078.6" stroke="#bab8ba" stroke-width="1.2"/><text x="807.22" y="1054.90" font-size="27.7" fill="#bdbbbd">21</text><text x="949.32" y="1054.90" font-size="27.7" fill="#bdbbbd">21</text><text x="1091.42" y="1054.90" font-size="27.7" fill="#bdbbbd">21</text><text x="1233.52" y="1054.90" font-size="27.7" fill="#bdbbbd">21</text><text x="1360.44" y="1054.90" font-size="27.7" fill="#bdbbbd">± 0,5</text><rect x="763.8" y="1234" width="686.80" height="70.60" fill="#c1bfc1"/><line x1="893.7" y1="1234" x2="893.7" y2="1304.6" stroke="#bab8ba" stroke-width="1.2"/><line x1="1035.8" y1="1234" x2="1035.8" y2="1304.6" stroke="#bab8ba" stroke-width="1.2"/><line x1="1177.9" y1="1234" x2="1177.9" y2="1304.6" stroke="#bab8ba" stroke-width="1.2"/><line x1="1320.0" y1="1234" x2="1320.0" y2="1304.6" stroke="#bab8ba" stroke-width="1.2"/><text x="803.33" y="1281.10" font-size="27.7" fill="#bdbbbd">9.5</text><text x="945.43" y="1281.10" font-size="27.7" fill="#bdbbbd">9.5</text><text x="1087.53" y="1281.10" font-size="27.7" fill="#bdbbbd">9.5</text><text x="1229.63" y="1281.10" font-size="27.7" fill="#bdbbbd">9.5</text><text x="1360.44" y="1281.10" font-size="27.7" fill="#bdbbbd">± 0,5</text><rect x="763.8" y="1411.1" width="686.70" height="70.50" fill="#c1bfc1"/><line x1="893.7" y1="1411.1" x2="893.7" y2="1481.6" stroke="#bab8ba" stroke-width="1.2"/><line x1="1035.8" y1="1411.1" x2="1035.8" y2="1481.6" stroke="#bab8ba" stroke-width="1.2"/><line x1="1177.9" y1="1411.1" x2="1177.9" y2="1481.6" stroke="#bab8ba" stroke-width="1.2"/><line x1="1320.0" y1="1411.1" x2="1320.0" y2="1481.6" stroke="#bab8ba" stroke-width="1.2"/><text x="807.22" y="1462.90" font-size="27.7" fill="#bdbbbd">21</text><text x="949.32" y="1462.90" font-size="27.7" fill="#bdbbbd">21</text><text x="1091.42" y="1462.90" font-size="27.7" fill="#bdbbbd">21</text><text x="1233.52" y="1462.90" font-size="27.7" fill="#bdbbbd">21</text><text x="1360.44" y="1462.90" font-size="27.7" fill="#bdbbbd">± 0,5</text><rect x="763.8" y="1587.4" width="686.70" height="70.60" fill="#c1bfc1"/><line x1="893.7" y1="1587.4" x2="893.7" y2="1658" stroke="#bab8ba" stroke-width="1.2"/><line x1="1035.8" y1="1587.4" x2="1035.8" y2="1658" stroke="#bab8ba" stroke-width="1.2"/><line x1="1177.9" y1="1587.4" x2="1177.9" y2="1658" stroke="#bab8ba" stroke-width="1.2"/><line x1="1320.0" y1="1587.4" x2="1320.0" y2="1658" stroke="#bab8ba" stroke-width="1.2"/><text x="807.16" y="1630.90" font-size="27.7" fill="#bdbbbd">23</text><text x="949.26" y="1630.90" font-size="27.7" fill="#bdbbbd">23</text><text x="1091.36" y="1630.90" font-size="27.7" fill="#bdbbbd">23</text><text x="1233.46" y="1630.90" font-size="27.7" fill="#bdbbbd">23</text><text x="1360.44" y="1630.90" font-size="27.7" fill="#bdbbbd">± 0,5</text><rect x="763.6" y="1814" width="687.10" height="70.70" fill="#c1bfc1"/><line x1="893.7" y1="1814" x2="893.7" y2="1884.7" stroke="#bab8ba" stroke-width="1.2"/><line x1="1035.8" y1="1814" x2="1035.8" y2="1884.7" stroke="#bab8ba" stroke-width="1.2"/><line x1="1177.9" y1="1814" x2="1177.9" y2="1884.7" stroke="#bab8ba" stroke-width="1.2"/><line x1="1320.0" y1="1814" x2="1320.0" y2="1884.7" stroke="#bab8ba" stroke-width="1.2"/><text x="815.03" y="1852.65" font-size="27.7" fill="#bdbbbd">3</text><text x="957.13" y="1852.65" font-size="27.7" fill="#bdbbbd">3</text><text x="1099.23" y="1852.65" font-size="27.7" fill="#bdbbbd">3</text><text x="1241.33" y="1852.65" font-size="27.7" fill="#bdbbbd">3</text><text x="1360.55" y="1852.65" font-size="27.7" fill="#bdbbbd">± 0,2</text><rect x="763.6" y="2040.4" width="687.10" height="71.60" fill="#c1bfc1"/><line x1="893.7" y1="2040.4" x2="893.7" y2="2112" stroke="#bab8ba" stroke-width="1.2"/><line x1="1035.8" y1="2040.4" x2="1035.8" y2="2112" stroke="#bab8ba" stroke-width="1.2"/><line x1="1177.9" y1="2040.4" x2="1177.9" y2="2112" stroke="#bab8ba" stroke-width="1.2"/><line x1="1320.0" y1="2040.4" x2="1320.0" y2="2112" stroke="#bab8ba" stroke-width="1.2"/><text x="803.78" y="2082.10" font-size="27.7" fill="#bdbbbd">4.7</text><text x="945.88" y="2082.10" font-size="27.7" fill="#bdbbbd">4.7</text><text x="1087.98" y="2082.10" font-size="27.7" fill="#bdbbbd">4.7</text><text x="1230.08" y="2082.10" font-size="27.7" fill="#bdbbbd">4.7</text><text x="1360.55" y="2082.10" font-size="27.7" fill="#bdbbbd">± 0,2</text><polygon points="1035.5,1311.2 1048.3,1311.2 1035.5,1323.3" fill="#1f7a45"/>
<g fill="#a8a8a8" fill-opacity="0.40"><use href="#stamp" transform="translate(806.7,385.0)"/><use href="#stamp" transform="translate(806.7,904.0)"/><use href="#stamp" transform="translate(806.7,1422.3)"/><use href="#stamp" transform="translate(806.7,1939.5)"/></g>
</svg>
</body></html>
